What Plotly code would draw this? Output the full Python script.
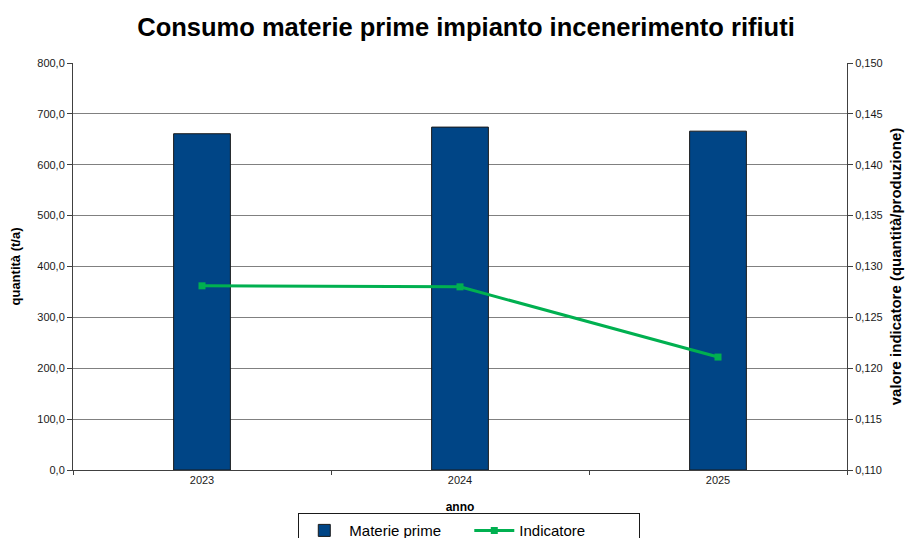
import plotly.graph_objects as go

# data
anni = ["2023", "2024", "2025"]
materie_prime = [661.0, 674.0, 666.0]
indicatore = [0.1281, 0.1280, 0.1211]

fig = go.Figure()
fig.add_trace(
    go.Bar(
        x=anni,
        y=materie_prime,
        name="Materie prime",
        marker=dict(color="#004586", line=dict(color="#1a1a1a", width=1)),
        width=0.22,
    )
)
fig.add_trace(
    go.Scatter(
        x=anni,
        y=indicatore,
        name="Indicatore",
        mode="lines+markers",
        line=dict(color="#00b050", width=3),
        marker=dict(symbol="square", size=7, color="#00b050"),
        yaxis="y2",
    )
)

# the page body adds an 8px offset, margins are set in figure coordinates
font = "Liberation Sans, Arial, sans-serif"
fig.update_layout(
    width=916,
    height=538,
    margin=dict(l=65, r=77, t=55, b=76, autoexpand=False),
    paper_bgcolor="white",
    plot_bgcolor="white",
    separators=",.",
    font=dict(family=font, size=11, color="#1a1a1a"),
    title=dict(
        text="<b>Consumo materie prime impianto incenerimento rifiuti</b>",
        x=0.5, xanchor="center", y=0.965, yanchor="middle",
        font=dict(size=25.5, color="black"),
    ),
    xaxis=dict(
        title=dict(text="<b>anno</b>", font=dict(size=12, color="black"), standoff=17),
        showline=True, linecolor="#404040", linewidth=1,
        ticks="outside", tickson="boundaries", ticklen=4, tickcolor="#404040",
        showgrid=False, automargin=False,
    ),
    yaxis=dict(
        title=dict(text="<b>quantità (t/a)</b>", font=dict(size=13, color="black"), standoff=22),
        range=[0, 800], dtick=100, tickformat=".1f",
        showline=True, linecolor="#404040", linewidth=1,
        ticks="outside", ticklen=5, tickcolor="#404040",
        showgrid=True, gridcolor="#808080", gridwidth=1,
        zeroline=False, automargin=False,
    ),
    yaxis2=dict(
        title=dict(text="<b>valore indicatore (quantità/produzione)</b>", font=dict(size=15, color="black"), standoff=8),
        range=[0.110, 0.150], dtick=0.005, tickformat=".3f",
        overlaying="y", side="right",
        showline=True, linecolor="#404040", linewidth=1,
        ticks="outside", ticklen=5, tickcolor="#404040",
        showgrid=False, zeroline=False, automargin=False,
    ),
    legend=dict(
        orientation="h",
        x=0.512, xanchor="center",
        y=-0.106, yanchor="top",
        bordercolor="#1a1a1a", borderwidth=1,
        font=dict(size=15, color="black"),
        entrywidth=115,
        itemwidth=40,
    ),
    showlegend=True,
)

fig.write_html("out.html")
